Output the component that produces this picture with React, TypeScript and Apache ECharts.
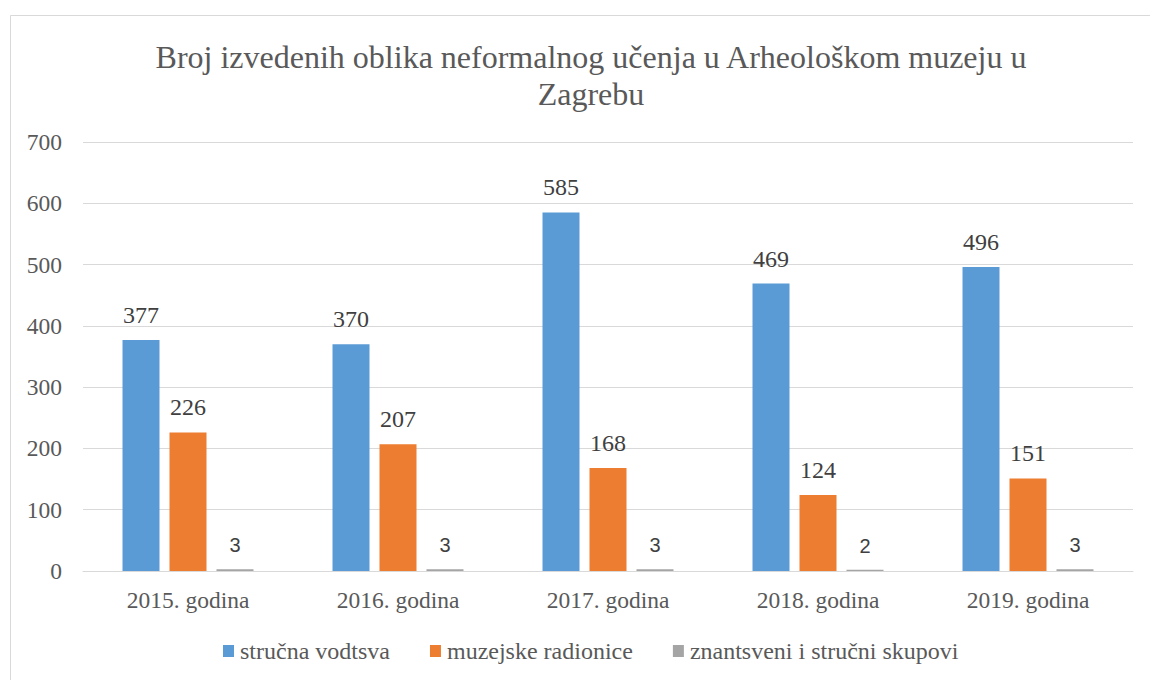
import React, { useEffect, useRef } from "react";
import * as echarts from "echarts";

const categories = ["2015. godina", "2016. godina", "2017. godina", "2018. godina", "2019. godina"];
const seriesNames = ["stručna vodtsva", "muzejske radionice", "znantsveni i stručni skupovi"];
const strucnaVodstva = [377, 370, 585, 469, 496];
const muzejskeRadionice = [226, 207, 168, 124, 151];
const skupovi = [3, 3, 3, 2, 3];
const colors = ["#5b9bd5", "#ed7d31", "#a5a5a5"];
const titleText = "Broj izvedenih oblika neformalnog učenja u Arheološkom muzeju u\nZagrebu";

const serif = "'Liberation Serif', 'Times New Roman', serif";
const sans = "'Liberation Sans', Arial, sans-serif";

export default function App() {
  const ref = useRef<HTMLDivElement>(null);
  useEffect(() => {
    if (!ref.current) return;
    const chart = echarts.init(ref.current, undefined, { renderer: "svg" });
    const dataSets = [strucnaVodstva, muzejskeRadionice, skupovi];
    chart.setOption({
      animation: false,
      backgroundColor: "#ffffff",
      graphic: [
        {
          type: "rect",
          shape: { x: 10.5, y: 15.5, width: 1200, height: 700 },
          style: { fill: "none", stroke: "#d9d9d9", lineWidth: 1 },
          silent: true,
        },
      ],
      title: {
        text: titleText,
        left: 586,
        textAlign: "center",
        top: 33,
        textStyle: {
          fontFamily: serif,
          fontSize: 32,
          fontWeight: "normal",
          color: "#595959",
          lineHeight: 37,
        },
      },
      legend: {
        top: 634,
        left: 218,
        padding: 5,
        itemWidth: 11,
        itemHeight: 12,
        itemGap: 40,
        icon: "rect",
        data: seriesNames,
        textStyle: { fontFamily: serif, fontSize: 24, color: "#595959", padding: [0, 0, 0, 1] },
      },
      grid: { left: 83, right: 17, top: 142, bottom: 109, containLabel: false },
      xAxis: {
        type: "category",
        data: categories,
        axisLine: { lineStyle: { color: "#d9d9d9", width: 1 } },
        axisTick: { show: false },
        axisLabel: { fontFamily: serif, fontSize: 23.5, color: "#595959", margin: 17 },
      },
      yAxis: {
        type: "value",
        min: 0,
        max: 700,
        interval: 100,
        axisLine: { show: false },
        axisTick: { show: false },
        splitLine: { lineStyle: { color: "#d9d9d9", width: 1 } },
        axisLabel: { fontFamily: serif, fontSize: 23.5, color: "#595959", margin: 21 },
      },
      series: seriesNames.map((name, i) => ({
        name,
        type: "bar",
        data: dataSets[i],
        barWidth: 37,
        barGap: "27%",
        itemStyle: { color: colors[i] },
        label: {
          show: true,
          position: "top",
          distance: i === 2 ? 14 : 13,
          fontFamily: i === 2 ? sans : serif,
          fontSize: i === 2 ? 20 : 24,
          color: "#404040",
        },
      })),
    });
    return () => chart.dispose();
  }, []);
  return <div ref={ref} style={{ width: 1150, height: 680, position: "absolute", left: 0, top: 0 }} />;
}
